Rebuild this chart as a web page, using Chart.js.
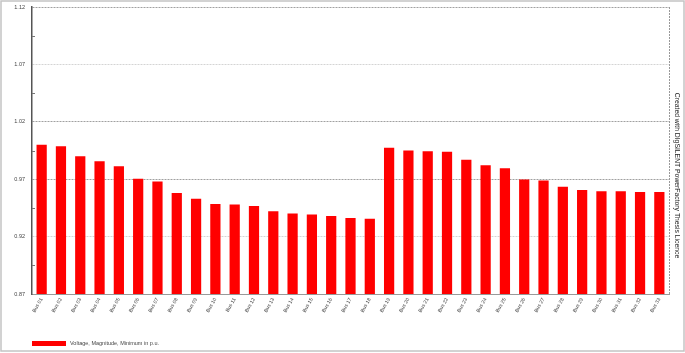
<!DOCTYPE html>
<html><head><meta charset="utf-8">
<script src="https://cdn.jsdelivr.net/npm/chart.js@4.4.1/dist/chart.umd.min.js"></script>
<style>html,body{margin:0;padding:0;background:#fff;overflow:hidden}#wrap{width:685px;height:353px;position:relative}</style>
</head><body><div id="wrap"><canvas id="c" width="685" height="353"></canvas></div>
<script>
const categories = ['Bus 01','Bus 02','Bus 03','Bus 04','Bus 05','Bus 06','Bus 07','Bus 08','Bus 09','Bus 10','Bus 11','Bus 12','Bus 13','Bus 14','Bus 15','Bus 16','Bus 17','Bus 18','Bus 19','Bus 20','Bus 21','Bus 22','Bus 23','Bus 24','Bus 25','Bus 26','Bus 27','Bus 28','Bus 29','Bus 30','Bus 31','Bus 32','Bus 33'];
const voltageMin = [1.0000, 0.9987, 0.9900, 0.9856, 0.9812, 0.9703, 0.9680, 0.9580, 0.9530, 0.9484, 0.9480, 0.9466, 0.9420, 0.9402, 0.9393, 0.9379, 0.9362, 0.9356, 0.9974, 0.9950, 0.9944, 0.9939, 0.9869, 0.9822, 0.9796, 0.9697, 0.9688, 0.9635, 0.9606, 0.9594, 0.9594, 0.9589, 0.9589];
const yMajorTicks = [0.87, 0.92, 0.97, 1.02, 1.07, 1.12];
const seriesLabel = 'Voltage, Magnitude, Minimum in p.u.';
const watermark = 'Created with DIgSILENT PowerFactory Thesis Licence';

const FONT = '"Liberation Sans", Arial, sans-serif';
const isMajor = v => yMajorTicks.some(m => Math.abs(m - v) < 1e-6);
const darkGrid = [0.97, 1.02, 1.12];

const decor = {
  id: 'decor',
  afterDraw(chart) {
    const ctx = chart.ctx, a = chart.chartArea, y = chart.scales.y;
    ctx.save();
    ctx.strokeStyle = '#c4c4c4'; ctx.lineWidth = 1.5;
    ctx.strokeRect(1, 1, 683, 350);
    ctx.strokeStyle = '#999'; ctx.lineWidth = 1; ctx.setLineDash([2, 1]);
    ctx.beginPath(); ctx.moveTo(Math.round(a.right) + 0.5, a.top); ctx.lineTo(Math.round(a.right) + 0.5, a.bottom); ctx.stroke();
    ctx.setLineDash([]);
    ctx.strokeStyle = '#777'; ctx.lineWidth = 1;
    for (let i = 0; i < yMajorTicks.length - 1; i++) {
      const v = (yMajorTicks[i] + yMajorTicks[i + 1]) / 2;
      const py = Math.round(y.getPixelForValue(v)) + 0.5;
      ctx.beginPath(); ctx.moveTo(a.left, py); ctx.lineTo(a.left + 3, py); ctx.stroke();
    }
    ctx.fillStyle = '#ff0000';
    ctx.fillRect(32, 341, 34, 5);
    ctx.fillStyle = '#444'; ctx.font = '5.5px ' + FONT; ctx.textBaseline = 'middle'; ctx.textAlign = 'left';
    ctx.fillText(chart.data.datasets[0].label, 70, 343.5);
    ctx.translate(677, 175.5); ctx.rotate(Math.PI / 2);
    ctx.fillStyle = '#222'; ctx.font = '6.8px ' + FONT; ctx.textAlign = 'center';
    ctx.fillText(watermark, 0, 0);
    ctx.restore();
  }
};

new Chart(document.getElementById('c'), {
  type: 'bar',
  data: { labels: categories, datasets: [{ label: seriesLabel, data: voltageMin, backgroundColor: '#ff0000', borderWidth: 0, categoryPercentage: 1, barPercentage: 0.53 }] },
  options: {
    responsive: false, animation: false, devicePixelRatio: 1,
    layout: { padding: { top: 7, right: 16, left: 0, bottom: 0 } },
    plugins: { legend: { display: false }, tooltip: { enabled: false } },
    scales: {
      x: {
        afterFit: s => { s.height = 59; s.paddingLeft = 0; s.paddingRight = 0; },
        grid: { display: false, drawTicks: false },
        border: { display: true, color: '#999', width: 1 },
        ticks: { font: { family: FONT, size: 5 }, color: '#444', minRotation: 60, maxRotation: 60, autoSkip: false, padding: 3 }
      },
      y: {
        min: yMajorTicks[0], max: yMajorTicks[yMajorTicks.length - 1],
        afterFit: s => { s.width = 32; s.paddingTop = 0; s.paddingBottom = 0; },
        afterBuildTicks: s => {
          const t = [];
          for (let i = 0; i < yMajorTicks.length; i++) {
            t.push({ value: yMajorTicks[i] });
            if (i < yMajorTicks.length - 1) t.push({ value: (yMajorTicks[i] + yMajorTicks[i + 1]) / 2 });
          }
          s.ticks = t;
        },
        grid: {
          drawTicks: false,
          color: c => { const v = c.tick ? c.tick.value : 0; if (!isMajor(v)) return 'rgba(0,0,0,0)'; return darkGrid.some(d => Math.abs(d - v) < 1e-6) ? '#a0a0a0' : '#d4d4d4'; },
          lineWidth: 1
        },
        border: { display: true, color: '#555', width: 1.5, dash: [2, 1] },
        ticks: { autoSkip: false, font: { family: FONT, size: 5.5 }, color: '#444', padding: 7,
          callback: v => isMajor(v) ? v.toFixed(2) : '' }
      }
    }
  },
  plugins: [decor]
});
</script></body></html>
